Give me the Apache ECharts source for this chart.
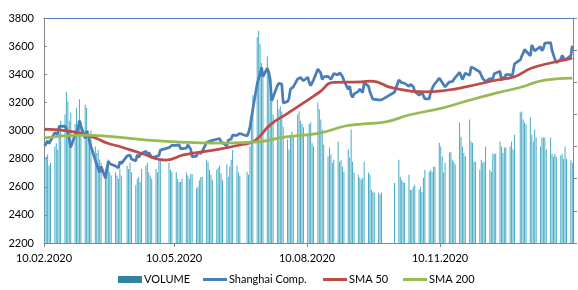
<!DOCTYPE html>
<html>
<head>
<meta charset="utf-8">
<script src="https://cdn.jsdelivr.net/npm/echarts@6/dist/echarts.min.js"></script>
<style>
html, body { margin: 0; padding: 0; background: #fff; }
#main { width: 578px; height: 290px; }
</style>
</head>
<body>
<div id="main"></div>
<script>
// trading calendar: weekdays from start to end, minus exchange holidays
var startDay = '2020-02-10';
var endDay = '2021-02-09';
var holidays = ['2020-04-06', '2020-05-01', '2020-05-04', '2020-05-05', '2020-06-25', '2020-06-26',
  '2020-10-01', '2020-10-02', '2020-10-05', '2020-10-06', '2020-10-07', '2020-10-08', '2021-01-01'];

// Shanghai Comp. closes, one per trading day (month by month)
var close = [
  2890, 2902, 2927, 2906, 2917, 2984, 2984, 2975, 3030, 3040, 3031, 3013, 2988, 2992, 2880,
  2970, 2992, 3011, 3071, 3034, 2943, 2997, 2968, 2923, 2887, 2789, 2779, 2728, 2702, 2745, 2660, 2722, 2781, 2764, 2772, 2747, 2750,
  2734, 2780, 2764, 2820, 2815, 2826, 2797, 2783, 2827, 2811, 2819, 2838, 2852, 2827, 2844, 2838, 2808, 2815, 2810, 2822, 2860,
  2878, 2872, 2895, 2894, 2891, 2898, 2870, 2868, 2875, 2898, 2883, 2867, 2813, 2817, 2846, 2837, 2836, 2852,
  2915, 2921, 2923, 2919, 2930, 2938, 2943, 2943, 2920, 2919, 2890, 2931, 2935, 2939, 2967, 2965, 2970, 2979, 2961, 2985,
  3025, 3090, 3152, 3332, 3345, 3403, 3450, 3383, 3443, 3414, 3361, 3210, 3214, 3320, 3335, 3345, 3330, 3196, 3205, 3227, 3294, 3286, 3310,
  3367, 3371, 3377, 3386, 3354, 3379, 3340, 3319, 3320, 3360, 3438, 3451, 3408, 3363, 3381, 3385, 3373, 3364, 3384, 3404, 3396,
  3411, 3405, 3384, 3355, 3292, 3316, 3255, 3235, 3260, 3278, 3295, 3283, 3270, 3338, 3316, 3274, 3279, 3223, 3219, 3217, 3224, 3218,
  3272, 3359, 3359, 3340, 3332, 3336, 3313, 3329, 3325, 3312, 3278, 3251, 3254, 3270, 3272, 3225,
  3225, 3272, 3277, 3320, 3312, 3373, 3360, 3342, 3338, 3310, 3346, 3339, 3347, 3363, 3377, 3414, 3402, 3362, 3369, 3408, 3392,
  3451, 3449, 3442, 3445, 3416, 3410, 3371, 3373, 3347, 3369, 3367, 3366, 3404, 3394, 3421, 3357, 3382, 3364, 3397, 3397, 3379, 3414, 3473,
  3502, 3528, 3550, 3576, 3570, 3531, 3608, 3598, 3566, 3566, 3596, 3566, 3583, 3621, 3607, 3625, 3569, 3573, 3506, 3483,
  3505, 3533, 3517, 3501, 3496, 3532, 3603
];

// volume, same days (right axis, unlabelled)
var volume = [
  265, 269, 275, 240, 250, 300, 310, 290, 340, 380, 400, 470, 440, 380, 406,
  370, 420, 360, 447, 380, 430, 420, 350, 330, 350, 300, 280, 290, 260, 250, 230, 240, 260, 220, 210, 220, 210,
  200, 230, 210, 240, 230, 250, 220, 180, 200, 205, 190, 230, 240, 250, 220, 210, 200, 230, 220, 260, 260,
  250, 228, 222, 220, 200, 190, 190, 200, 220, 210, 200, 215, 215, 170, 175, 195, 205, 205,
  259, 253, 228, 212, 197, 228, 234, 240, 216, 197, 244, 206, 237, 259, 290, 240, 220, 210, 222, 212,
  300, 400, 460, 640, 660, 620, 560, 530, 580, 520, 470, 440, 400, 447, 416, 425, 409, 362, 322, 291, 331, 347, 328,
  400, 410, 380, 370, 360, 340, 370, 375, 310, 300, 437, 416, 384, 353, 306, 269, 297, 275, 250, 259, 316,
  253, 259, 237, 222, 291, 266, 353, 253, 219, 212, 203, 197, 203, 253, 219, 212, 166, 159, 156, 156, 150, 156,
  187, 259, 206, 197, 190, 187, 212, 166, 166, 175, 181, 166, 175, 159, 203, 228,
  222, 228, 222, 237, 237, 312, 300, 269, 219, 250, 281, 284, 259, 253, 245, 375, 330, 300, 280, 270, 384,
  316, 312, 253, 253, 228, 259, 250, 253, 300, 228, 222, 278, 278, 278, 316, 300, 281, 297, 297, 300, 316, 291, 337,
  406, 409, 384, 375, 369, 391, 337, 316, 353, 328, 300, 328, 328, 328, 291, 328, 278, 269, 278, 269,
  272, 278, 262, 300, 262, 259, 250
];

var sma50 = [
  ['2020-02-10', 3010], ['2020-03-01', 2990], ['2020-03-16', 2947], ['2020-03-24', 2911], ['2020-04-03', 2883],
  ['2020-04-16', 2840], ['2020-05-04', 2790], ['2020-05-16', 2826], ['2020-06-06', 2861], ['2020-06-24', 2897],
  ['2020-07-04', 2925], ['2020-07-15', 3040], ['2020-07-26', 3115], ['2020-08-06', 3190], ['2020-08-18', 3272],
  ['2020-08-28', 3342], ['2020-09-16', 3345], ['2020-09-23', 3352], ['2020-10-07', 3305], ['2020-10-30', 3274],
  ['2020-11-15', 3288], ['2020-11-28', 3312], ['2020-12-19', 3359], ['2020-12-31', 3382], ['2021-01-12', 3444],
  ['2021-01-28', 3487], ['2021-02-09', 3515]
];
var sma200 = [
  ['2020-02-10', 2947], ['2020-03-06', 2968], ['2020-03-24', 2960], ['2020-04-21', 2932], ['2020-05-13', 2918],
  ['2020-06-06', 2911], ['2020-07-04', 2918], ['2020-07-26', 2954], ['2020-08-18', 2982], ['2020-09-05', 3032],
  ['2020-09-16', 3046], ['2020-10-03', 3062], ['2020-10-19', 3110], ['2020-11-11', 3160], ['2020-11-28', 3210],
  ['2020-12-19', 3267], ['2021-01-05', 3309], ['2021-01-21', 3359], ['2021-02-09', 3373]
];

var xLabels = ['2020-02-10', '2020-05-10', '2020-08-10', '2020-11-10'];

function ts(s, h) {
  var p = s.split('-');
  return new Date(+p[0], +p[1] - 1, +p[2], h || 0).getTime();
}
function iso(d) {
  var m = d.getMonth() + 1, dd = d.getDate();
  return d.getFullYear() + '-' + (m < 10 ? '0' : '') + m + '-' + (dd < 10 ? '0' : '') + dd;
}
function fmt(v) {
  var d = new Date(v);
  var m = d.getMonth() + 1, dd = d.getDate();
  return (dd < 10 ? '0' : '') + dd + '.' + (m < 10 ? '0' : '') + m + '.' + d.getFullYear();
}

var days = [];
var d = new Date(ts(startDay));
var last = ts(endDay);
while (d.getTime() <= last) {
  var wd = d.getDay();
  if (wd !== 0 && wd !== 6 && holidays.indexOf(iso(d)) < 0) days.push(ts(iso(d), 12));
  d.setDate(d.getDate() + 1);
}

var closeData = days.map(function (t, i) { return [t, close[i]]; });
var volData = days.map(function (t, i) { return [t, volume[i]]; });
var sma50Data = sma50.map(function (p) { return [ts(p[0], 12), p[1]]; });
var sma200Data = sma200.map(function (p) { return [ts(p[0], 12), p[1]]; });
var labelTs = xLabels.map(function (s) { return ts(s); });
var xMin = ts('2020-02-10');
var xMax = ts('2021-02-10');

var font = 'Lato, "Liberation Sans", sans-serif';
var axisGray = '#868686';

function legendAt(x, item, h) {
  return {
    left: x, top: 274, padding: 0, itemGap: 0,
    itemWidth: 24, itemHeight: h,
    textStyle: { fontSize: 11, fontFamily: font, color: '#000', padding: [0, 0, 0, -3] },
    data: [item]
  };
}

var myChart = echarts.init(document.getElementById('main'));
var option = {
  animation: false,
  backgroundColor: '#fff',
  grid: { left: 44, right: 5, top: 18, bottom: 47 },
  legend: [
    legendAt(118, { name: 'VOLUME', icon: 'rect', itemStyle: { color: '#31849b' } }, 7),
    legendAt(203, { name: 'Shanghai Comp.', icon: 'rect' }, 3),
    legendAt(323, { name: 'SMA 50', icon: 'rect' }, 3),
    legendAt(403, { name: 'SMA 200', icon: 'rect' }, 3)
  ],
  xAxis: [
    {
      type: 'value',
      min: xMin, max: xMax,
      axisLine: { lineStyle: { color: axisGray } },
      axisTick: { show: true, length: 4, customValues: labelTs, lineStyle: { color: axisGray } },
      axisLabel: { customValues: labelTs, formatter: fmt, fontSize: 11, fontFamily: font, color: '#000', margin: 10 },
      splitLine: { show: false }
    },
    {
      type: 'value',
      position: 'top',
      min: xMin, max: xMax,
      axisLine: { show: true, lineStyle: { color: '#4a7ebb' } },
      axisTick: { show: false },
      axisLabel: { show: false },
      splitLine: { show: false }
    }
  ],
  yAxis: [
    {
      type: 'value',
      min: 2200, max: 3800, interval: 200,
      axisLine: { show: true, lineStyle: { color: axisGray } },
      axisTick: { show: true, inside: true, length: 3, lineStyle: { color: axisGray } },
      axisLabel: { fontSize: 11, fontFamily: font, color: '#000', margin: 10, formatter: function (v) { return String(v); } },
      splitLine: { show: false }
    },
    {
      type: 'value',
      position: 'right',
      min: 0, max: 700, interval: 100,
      axisLine: { show: true, lineStyle: { color: axisGray } },
      axisTick: { show: true, length: 4, lineStyle: { color: axisGray } },
      axisLabel: { show: false },
      splitLine: { show: false }
    }
  ],
  series: [
    {
      name: 'VOLUME', type: 'bar', yAxisIndex: 1,
      data: volData, barWidth: 1,
      itemStyle: { color: '#4bacc6' }
    },
    {
      name: 'Shanghai Comp.', type: 'line', data: closeData,
      symbol: 'none', showSymbol: false,
      lineStyle: { width: 2.75, color: '#4a7ebb' }, itemStyle: { color: '#4a7ebb' }
    },
    {
      name: 'SMA 50', type: 'line', data: sma50Data, smooth: true,
      symbol: 'none', showSymbol: false,
      lineStyle: { width: 2.75, color: '#be4b48' }, itemStyle: { color: '#be4b48' }
    },
    {
      name: 'SMA 200', type: 'line', data: sma200Data, smooth: true,
      symbol: 'none', showSymbol: false,
      lineStyle: { width: 2.75, color: '#98b954' }, itemStyle: { color: '#98b954' }
    }
  ]
};
myChart.setOption(option);
</script>
</body>
</html>
